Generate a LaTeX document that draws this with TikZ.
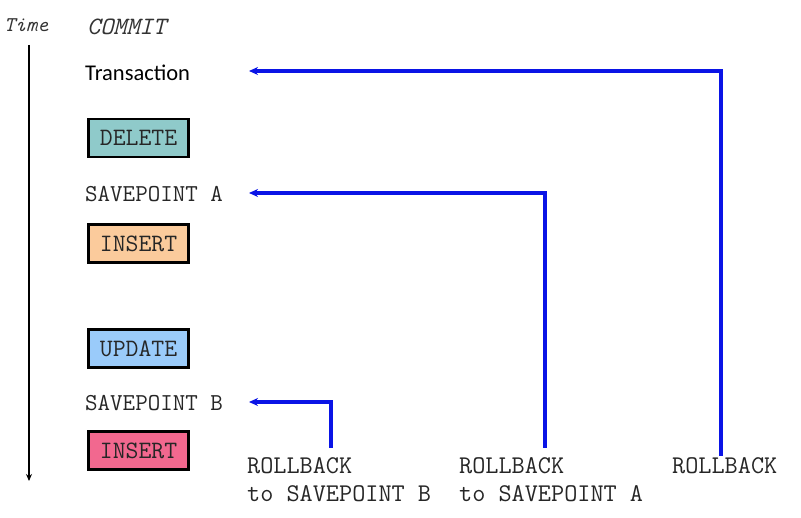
\documentclass[tikz,border=0pt]{standalone}
\usepackage{fontspec}
\newfontfamily\calib{Carlito}
\usetikzlibrary{arrows.meta}
\definecolor{delc}{HTML}{8FCACA}
\definecolor{insc}{HTML}{FBCB9C}
\definecolor{updc}{HTML}{9ACBFA}
\definecolor{ins2c}{HTML}{F2688F}
\definecolor{arrc}{HTML}{0A14E6}
\tikzset{
  op/.style={draw=black, line width=2.8pt, minimum width=100pt, minimum height=38pt, inner sep=0pt, font=\ttfamily\fontsize{25}{28}\selectfont, text=black!85},
  lbl/.style={anchor=west, inner sep=0pt, font=\ttfamily\fontsize{24.3}{28}\selectfont, text=black!85},
  rb/.style={anchor=north west, inner sep=0pt, align=left, font=\ttfamily\fontsize{25.5}{28}\selectfont, text=black!85},
  back/.style={draw=arrc, line width=3.2pt, -{Stealth[length=9pt,width=8pt]}},
}
\begin{document}
\begin{tikzpicture}[x=1pt,y=-1pt]
\useasboundingbox (0,0) rectangle (801,518);
\node[anchor=west, inner sep=0pt, font=\ttfamily\itshape\fontsize{21}{24}\selectfont, text=black!80] (time) at (4,25) {Time};
\node[anchor=west, inner sep=0pt, font=\ttfamily\itshape\fontsize{25}{28}\selectfont, text=black!80] (commit) at (87,27) {COMMIT};
\coordinate (t0) at (29,45);
\coordinate (t1) at (29,481);
\draw[line width=2.7pt, -{Stealth[length=7pt,width=6pt]}] (t0) -- (t1);
\node[anchor=west, inner sep=0pt, font=\calib\fontsize{22.5}{26}\selectfont] (tr) at (85,73) {Transaction};
\node[op, fill=delc] (del) at (138.5,138) {DELETE};
\node[lbl] (spa) at (85,194) {SAVEPOINT A};
\node[op, fill=insc] (ins) at (138.5,243.5) {INSERT};
\node[op, fill=updc] (upd) at (138.5,348.5) {UPDATE};
\node[lbl] (spb) at (85,403) {SAVEPOINT B};
\node[op, fill=ins2c] (ins2) at (138.5,450.5) {INSERT};
\node[rb] (rb1) at (247,457) {ROLLBACK\\to SAVEPOINT B};
\node[rb] (rb2) at (459,457) {ROLLBACK\\to SAVEPOINT A};
\node[rb] (rb3) at (672,457) {ROLLBACK};
\coordinate (e1) at (331,448);
\coordinate (e2) at (545,448);
\coordinate (e3) at (721,456);
\coordinate (a1) at (249,402);
\coordinate (a2) at (249,193);
\coordinate (a3) at (249,71);
\draw[back] (e1) |- (a1);
\draw[back] (e2) |- (a2);
\draw[back] (e3) |- (a3);
\end{tikzpicture}
\end{document}
